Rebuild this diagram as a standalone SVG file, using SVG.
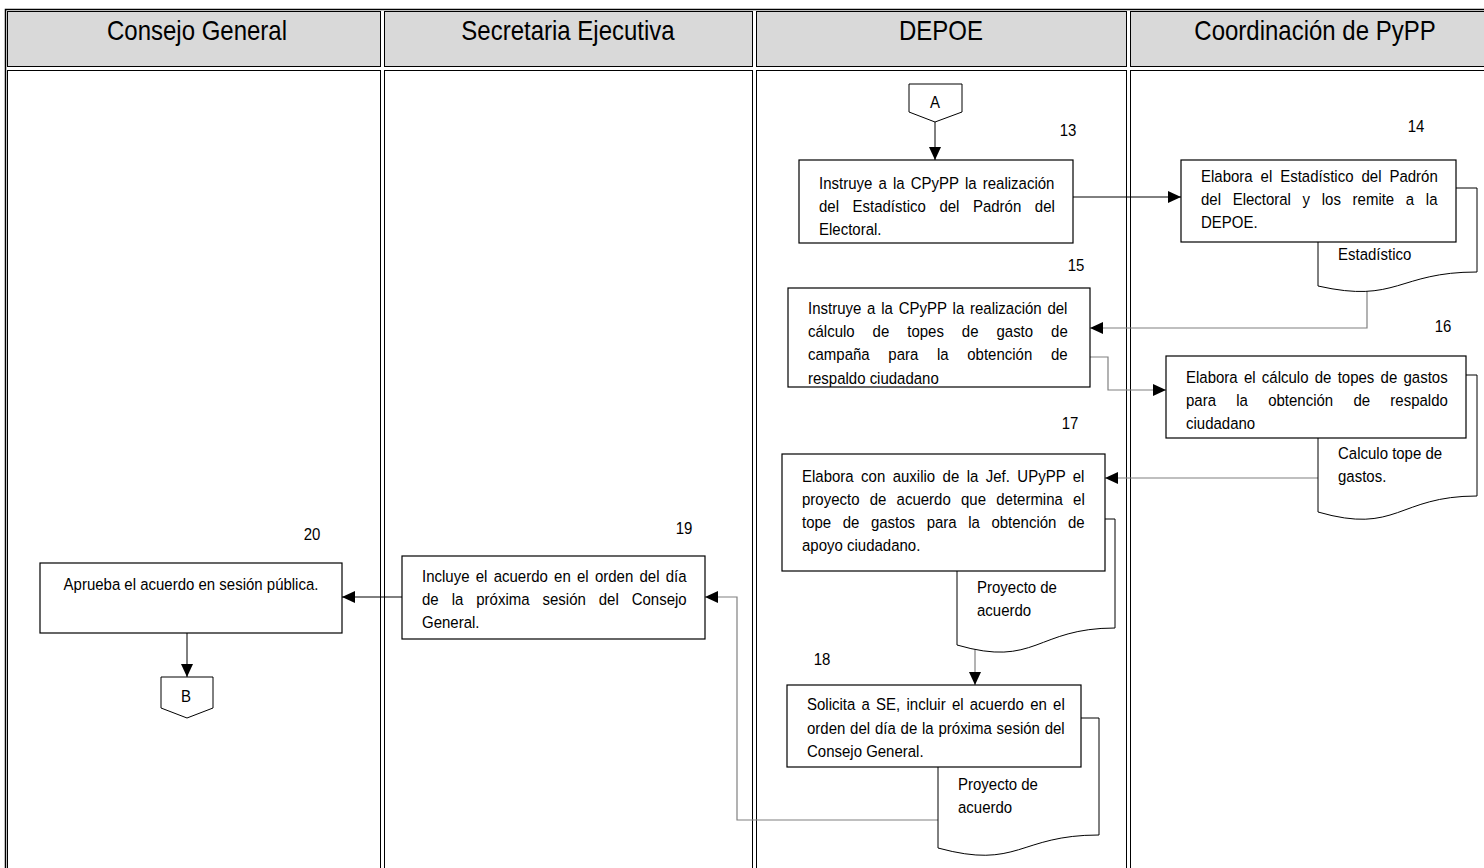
<svg xmlns="http://www.w3.org/2000/svg" width="1484" height="868" viewBox="0 0 1484 868">
<defs>
<marker id="ah" viewBox="0 0 13 12" refX="13" refY="6" markerWidth="13" markerHeight="12" markerUnits="userSpaceOnUse" orient="auto">
<path d="M0,0 L13,6 L0,12 z" fill="#000"/>
</marker>
<clipPath id="clip15"><rect x="788" y="288" width="302" height="99"/></clipPath>
</defs>
<style>
.hcell{fill:#d9d9d9;stroke:#000;stroke-width:1}
.bcell{fill:#fff;stroke:#000;stroke-width:1}
.outer{fill:none;stroke:#000;stroke-width:1.5}
.hdr{font-family:"Liberation Sans",Arial,sans-serif;font-size:24px;text-anchor:middle;fill:#000}
.box{fill:#fff;stroke:#000;stroke-width:1.2}
.doc{fill:#fff;stroke:#000;stroke-width:1}
.conn{fill:#fff;stroke:#000;stroke-width:1}
.t{font-family:"Liberation Sans",Arial,sans-serif;font-size:15px;fill:#000}
.mid{text-anchor:middle}
.num{font-family:"Liberation Sans",Arial,sans-serif;font-size:15px;fill:#000;text-anchor:middle}
.cd{fill:none;stroke:#000;stroke-width:1;marker-end:url(#ah)}
.cg{fill:none;stroke:#808080;stroke-width:1.2;marker-end:url(#ah)}
</style>

<g id="lanes">
<rect class="hcell" x="7.5" y="11.5" width="373" height="55"/>
<rect class="hcell" x="384.5" y="11.5" width="368" height="55"/>
<rect class="hcell" x="756.5" y="11.5" width="370" height="55"/>
<rect class="hcell" x="1130.5" y="11.5" width="360" height="55"/>
<rect class="bcell" x="7.5" y="70.5" width="373" height="805"/>
<rect class="bcell" x="384.5" y="70.5" width="368" height="805"/>
<rect class="bcell" x="756.5" y="70.5" width="370" height="805"/>
<rect class="bcell" x="1130.5" y="70.5" width="360" height="805"/>
<rect class="outer" x="5.5" y="9.5" width="1490" height="870"/>
<text class="hdr" transform="translate(197 40) scale(1 1.12)">Consejo General</text>
<text class="hdr" transform="translate(568 40) scale(1 1.12)">Secretaria Ejecutiva</text>
<text class="hdr" transform="translate(941 40) scale(1 1.12)">DEPOE</text>
<text class="hdr" transform="translate(1315 40) scale(1 1.12)">Coordinación de PyPP</text>
</g>

<g id="connectors">
<path class="cd" d="M935,122 V160"/>
<path class="cd" d="M1073,197 H1181"/>
<path class="cg" d="M1367,285 V328 H1090"/>
<path class="cg" d="M1090,357 H1108 V390 H1166"/>
<path class="cg" d="M1318,478 H1105"/>
<path class="cg" d="M975,640 V685"/>
<path class="cg" d="M938,820 H737 V597 H705"/>
<path class="cd" d="M402,597 H342"/>
<path class="cd" d="M187,633 V677"/>
</g>

<g id="connA">
<path class="conn" d="M909,84 H962 V112 L935,122 L909,112 Z"/>
<text class="t mid" transform="translate(935 108) scale(1 1.12)">A</text>
</g>

<g id="n13">
<text class="num" transform="translate(1068 136) scale(1 1.12)">13</text>
<rect class="box" x="799" y="160" width="274" height="83"/>
<text class="t" transform="translate(819 189) scale(1 1.12)" word-spacing="2">Instruye a la CPyPP la realización</text>
<text class="t" transform="translate(819 212) scale(1 1.12)" word-spacing="9.4">del Estadístico del Padrón del</text>
<text class="t" transform="translate(819 235) scale(1 1.12)">Electoral.</text>
</g>

<g id="n14">
<text class="num" transform="translate(1416 132) scale(1 1.12)">14</text>
<path class="doc" d="M1318,188 H1477 V272 C1397.5,272 1397.5,304 1318,286 Z"/>
<text class="t" transform="translate(1338 260) scale(1 1.12)">Estadístico</text>
<rect class="box" x="1181" y="160" width="275" height="82"/>
<text class="t" transform="translate(1201 182) scale(1 1.12)" word-spacing="3.8">Elabora el Estadístico del Padrón</text>
<text class="t" transform="translate(1201 205) scale(1 1.12)" word-spacing="7.5">del Electoral y los remite a la</text>
<text class="t" transform="translate(1201 228) scale(1 1.12)">DEPOE.</text>
</g>

<g id="n15">
<text class="num" transform="translate(1076 271) scale(1 1.12)">15</text>
<rect class="box" x="788" y="288" width="302" height="99"/>
<g clip-path="url(#clip15)">
<text class="t" transform="translate(808 314) scale(1 1.12)" word-spacing="1.65">Instruye a la CPyPP la realización del</text>
<text class="t" transform="translate(808 337) scale(1 1.12)" word-spacing="13.8">cálculo de topes de gasto de</text>
<text class="t" transform="translate(808 360) scale(1 1.12)" word-spacing="14.5">campaña para la obtención de</text>
<text class="t" transform="translate(808 384) scale(1 1.12)">respaldo ciudadano</text>
</g>
</g>

<g id="n16">
<text class="num" transform="translate(1443 332) scale(1 1.12)">16</text>
<path class="doc" d="M1318,375 H1477 V496 C1397.5,496 1397.5,535 1318,512 Z"/>
<text class="t" transform="translate(1338 459) scale(1 1.12)">Calculo tope de</text>
<text class="t" transform="translate(1338 482) scale(1 1.12)">gastos.</text>
<rect class="box" x="1166" y="356" width="300" height="82"/>
<text class="t" transform="translate(1186 383) scale(1 1.12)" word-spacing="2.1">Elabora el cálculo de topes de gastos</text>
<text class="t" transform="translate(1186 406) scale(1 1.12)" word-spacing="16.1">para la obtención de respaldo</text>
<text class="t" transform="translate(1186 429) scale(1 1.12)">ciudadano</text>
</g>

<g id="n17">
<text class="num" transform="translate(1070 429) scale(1 1.12)">17</text>
<path class="doc" d="M957,519 H1115 V628 C1036,628 1036,668 957,645 Z"/>
<text class="t" transform="translate(977 593) scale(1 1.12)">Proyecto de</text>
<text class="t" transform="translate(977 616) scale(1 1.12)">acuerdo</text>
<rect class="box" x="782" y="454" width="323" height="117"/>
<text class="t" transform="translate(802 482) scale(1 1.12)" word-spacing="3.27">Elabora con auxilio de la Jef. UPyPP el</text>
<text class="t" transform="translate(802 505) scale(1 1.12)" word-spacing="6.08">proyecto de acuerdo que determina el</text>
<text class="t" transform="translate(802 528) scale(1 1.12)" word-spacing="7.4">tope de gastos para la obtención de</text>
<text class="t" transform="translate(802 551) scale(1 1.12)">apoyo ciudadano.</text>
</g>

<g id="n18">
<text class="num" transform="translate(822 665) scale(1 1.12)">18</text>
<path class="doc" d="M938,718 H1099 V835 C1018.5,835 1018.5,870 938,848 Z"/>
<text class="t" transform="translate(958 790) scale(1 1.12)">Proyecto de</text>
<text class="t" transform="translate(958 813) scale(1 1.12)">acuerdo</text>
<rect class="box" x="787" y="685" width="294" height="82"/>
<text class="t" transform="translate(807 710) scale(1 1.12)" word-spacing="2.08">Solicita a SE, incluir el acuerdo en el</text>
<text class="t" transform="translate(807 734) scale(1 1.12)" word-spacing="0.64">orden del día de la próxima sesión del</text>
<text class="t" transform="translate(807 757) scale(1 1.12)">Consejo General.</text>
</g>

<g id="n19">
<text class="num" transform="translate(684 534) scale(1 1.12)">19</text>
<rect class="box" x="402" y="556" width="303" height="83"/>
<text class="t" transform="translate(422 582) scale(1 1.12)" word-spacing="2.1">Incluye el acuerdo en el orden del día</text>
<text class="t" transform="translate(422 605) scale(1 1.12)" word-spacing="8.8">de la próxima sesión del Consejo</text>
<text class="t" transform="translate(422 628) scale(1 1.12)">General.</text>
</g>

<g id="n20">
<text class="num" transform="translate(312 540) scale(1 1.12)">20</text>
<rect class="box" x="40" y="563" width="302" height="70"/>
<text class="t mid" transform="translate(191 590) scale(1 1.12)">Aprueba el acuerdo en sesión pública.</text>
</g>

<g id="connB">
<path class="conn" d="M161,677 H213 V708 L187,718 L161,708 Z"/>
<text class="t mid" transform="translate(186 702) scale(1 1.12)">B</text>
</g>
</svg>
